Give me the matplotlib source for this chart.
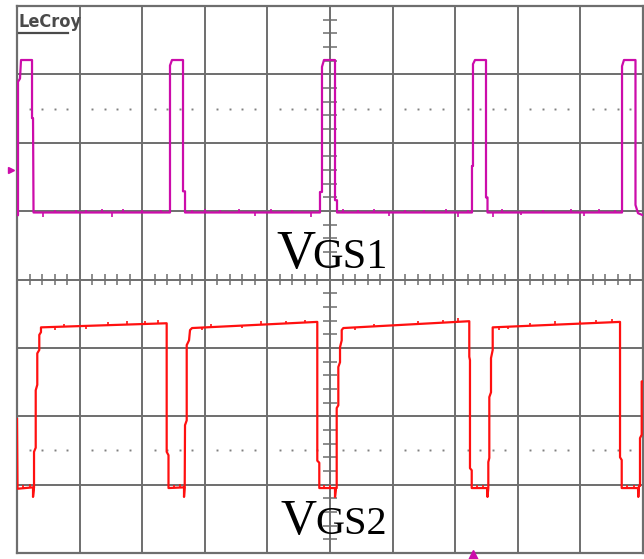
import numpy as np
import matplotlib
matplotlib.use("Agg")
import matplotlib.pyplot as plt

# ---------------- data (screen divisions: time 0..10, level 0..8) ----------------
vgs1_t = [0.005, 0.016, 0.016, 0.048, 0.064, 0.240, 0.240, 0.256, 0.264,
          2.444, 2.444, 2.476, 2.652, 2.652, 2.684, 2.684,
          4.840, 4.840, 4.872, 4.872, 4.904, 5.080, 5.080, 5.112, 5.112,
          7.268, 7.268, 7.284, 7.284, 7.316, 7.492, 7.492, 7.516, 7.516,
          9.665, 9.665, 9.696, 9.880, 9.880, 9.920, 10.0]
vgs1_v = [4.94, 4.94, 6.89, 6.94, 7.21, 7.21, 6.36, 6.36, 4.98,
          4.98, 7.13, 7.21, 7.21, 5.29, 5.29, 4.98,
          4.98, 5.28, 5.28, 7.11, 7.21, 7.21, 5.16, 5.16, 4.98,
          4.98, 5.66, 5.66, 7.15, 7.21, 7.21, 5.20, 5.20, 4.98,
          4.98, 7.12, 7.21, 7.21, 5.09, 4.97, 4.94]
vgs1_glitch_t = [0.42, 0.60, 0.95, 1.10, 1.35, 1.52, 1.70, 2.00, 2.30,
                 2.80, 3.00, 3.25, 3.55, 3.80, 4.05, 4.40, 4.70,
                 5.20, 5.45, 5.70, 5.95, 6.20, 6.50, 6.85, 7.05, 7.20,
                 7.60, 7.75, 8.05, 8.40, 8.85, 9.05, 9.30, 9.55]
vgs1_glitch_dv = [-0.07, 0.04, 0.04, 0.04, 0.05, -0.06, 0.05, 0.04, 0.04,
                  0.04, 0.05, 0.04, 0.05, -0.05, 0.05, 0.04, -0.06,
                  0.05, 0.04, 0.05, -0.05, 0.04, 0.04, 0.05, -0.06, 0.04,
                  -0.07, 0.05, -0.04, 0.04, 0.05, -0.05, 0.05, 0.04]

vgs2_t = [0.000, 0.008, 0.256, 0.256, 0.272, 0.272, 0.299, 0.299, 0.324, 0.324,
          0.356, 0.356, 0.383, 0.383,
          2.391, 2.391, 2.420, 2.420, 2.668, 2.668, 2.679, 2.684, 2.711, 2.711,
          2.748, 2.764, 2.796,
          4.797, 4.797, 4.829, 4.829, 5.080, 5.080, 5.096, 5.107, 5.107, 5.133,
          5.133, 5.160, 5.160, 5.187, 5.187, 5.212,
          7.225, 7.225, 7.236, 7.236, 7.264, 7.264, 7.508, 7.516, 7.529, 7.529,
          7.545, 7.545, 7.572, 7.572, 7.599, 7.599,
          9.633, 9.633, 9.660, 9.660, 9.920, 9.925, 9.936, 9.952, 9.952, 9.979,
          9.979, 10.0]
vgs2_v = [1.96, 0.94, 0.96, 0.82, 0.96, 1.48, 1.54, 2.38, 2.46, 2.92,
          2.97, 3.19, 3.23, 3.30,
          3.36, 1.48, 1.43, 0.95, 0.96, 0.82, 0.96, 1.87, 1.94, 3.04,
          3.11, 3.26, 3.29,
          3.38, 1.35, 1.32, 0.95, 0.95, 0.82, 0.95, 0.95, 2.12, 2.16,
          2.72, 2.79, 3.01, 3.11, 3.26, 3.29,
          3.39, 2.87, 2.82, 1.24, 1.21, 0.95, 0.95, 0.82, 0.95, 1.33,
          1.39, 2.28, 2.35, 2.85, 2.97, 3.30,
          3.38, 1.40, 1.36, 0.95, 0.95, 0.82, 0.98, 0.98, 1.68, 1.73,
          2.51, 2.51]
vgs2_glitch_t = [0.60, 0.75, 1.10, 1.45, 1.75, 2.05, 2.25,
                 2.95, 3.10, 3.60, 3.90, 4.30, 4.60,
                 5.40, 5.70, 6.40, 6.80, 7.05,
                 7.70, 7.85, 8.20, 8.60, 9.00, 9.25, 9.50,
                 0.10, 0.20, 2.50, 2.60, 4.90, 5.00, 7.35, 7.45, 9.75, 9.85]
vgs2_glitch_dv = [-0.04, 0.04, -0.04, 0.05, 0.05, 0.04, 0.05,
                  -0.04, 0.04, -0.04, 0.05, 0.04, 0.04,
                  -0.04, 0.04, 0.05, 0.04, 0.05,
                  -0.04, -0.04, 0.04, 0.05, 0.04, 0.05, 0.05,
                  0.04, 0.05, 0.04, 0.05, 0.04, 0.05, 0.05, 0.04, 0.04, 0.05]

trace_labels = [("V", "GS1"), ("V", "GS2")]
brand = "LeCroy"

# ---------------- style ----------------
MAG = "#cc0caa"
RED = "#ff1010"
GRID = "#6e6e6e"
N_XDIV, N_YDIV = 10, 8

fig = plt.figure(figsize=(6.44, 5.59), dpi=100)
fig.patch.set_facecolor("white")
ax = fig.add_axes([17 / 644, 6 / 559, 626 / 644, 547 / 559])
ax.set_xlim(0, N_XDIV)
ax.set_ylim(0, N_YDIV)
ax.set_xticks(range(N_XDIV + 1))
ax.set_yticks(range(N_YDIV + 1))
ax.tick_params(length=0, labelbottom=False, labelleft=False)
ax.set_axisbelow(True)
ax.grid(True, color=GRID, lw=1.4)
for s in ax.spines.values():
    s.set_color(GRID)
    s.set_linewidth(1.6)

# center-line ticks
minor_x = [k * 0.2 for k in range(1, N_XDIV * 5) if k % 5]
minor_y = [k * 0.2 for k in range(1, N_YDIV * 5) if k % 5]
ax.vlines(minor_x, N_YDIV / 2 - 0.08, N_YDIV / 2 + 0.08, color=GRID, lw=1.1, zorder=1)
ax.hlines(minor_y, N_XDIV / 2 - 0.11, N_XDIV / 2 + 0.11, color=GRID, lw=1.1, zorder=1)
# dotted reference rows
for yy in (6.5, 1.5):
    ax.plot(minor_x, [yy] * len(minor_x), ls="none", marker="s", ms=1.4,
            mew=0, color="#808080", zorder=1)

# traces
ax.plot(vgs1_t, vgs1_v, color=MAG, lw=1.6, zorder=3)
b1 = np.interp(vgs1_glitch_t, vgs1_t, vgs1_v)
ax.vlines(vgs1_glitch_t, b1, b1 + np.array(vgs1_glitch_dv), color=MAG, lw=1.2, zorder=3)

ax.plot(vgs2_t, vgs2_v, color=RED, lw=1.6, zorder=3)
b2 = np.interp(vgs2_glitch_t, vgs2_t, vgs2_v)
ax.vlines(vgs2_glitch_t, b2, b2 + np.array(vgs2_glitch_dv), color=RED, lw=1.2, zorder=3)

# channel / trigger markers
ax.plot([-0.09], [5.60], marker=">", ms=5, color=MAG, clip_on=False, zorder=4)
ax.plot([7.28], [-0.05], marker="^", ms=8, color=MAG, clip_on=False, zorder=4)

# labels
serif = ["Liberation Serif", "DejaVu Serif"]
ax.text(4.15, 4.17, trace_labels[0][0], family=serif, fontsize=39, ha="left", va="baseline", zorder=5)
ax.text(4.71, 4.17, trace_labels[0][1], family=serif, fontsize=30.5, ha="left", va="baseline", zorder=5)
ax.text(4.21, 0.28, trace_labels[1][0], family=serif, fontsize=36, ha="left", va="baseline", zorder=5)
ax.text(4.77, 0.28, trace_labels[1][1], family=serif, fontsize=29, ha="left", va="baseline", zorder=5)

# brand logo
ax.text(0.03, 7.69, brand, family="DejaVu Sans", fontstretch="condensed", fontweight="bold",
        fontsize=13, color="#4a4a4a", ha="left", va="baseline", zorder=5)
ax.plot([0.03, 0.81], [7.60, 7.60], color="#4a4a4a", lw=1.6, zorder=5)

fig.savefig("out.png", dpi=100)
